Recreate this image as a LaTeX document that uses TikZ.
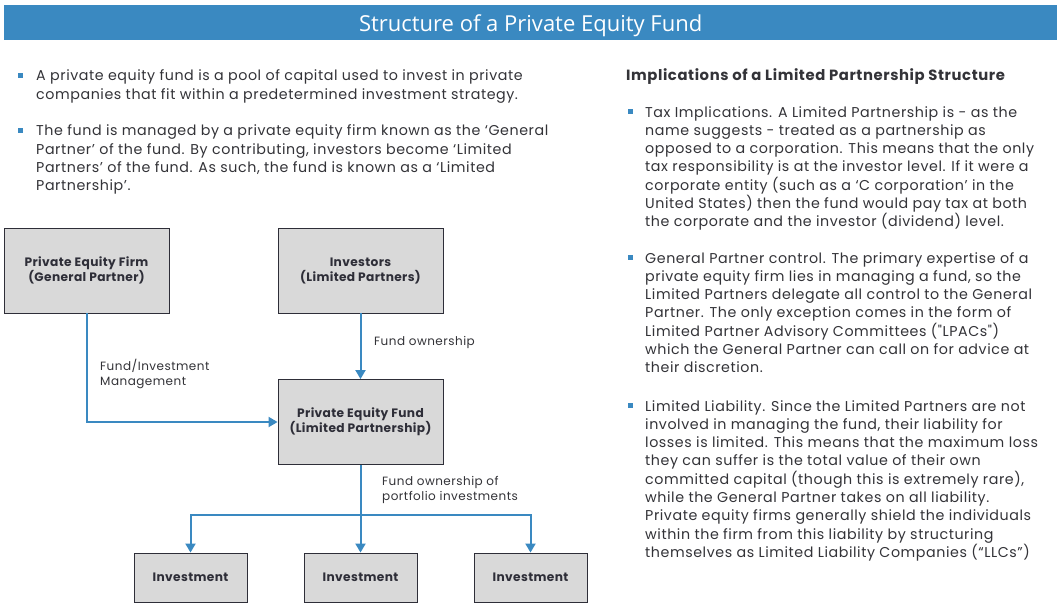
\documentclass[tikz,border=0pt]{standalone}
\usepackage{fontspec}
\setmainfont{Poppins}
\newfontfamily\titlefont{Open Sans}
\newfontfamily\wide[LetterSpace=4]{Poppins}
\newfontfamily\wideb[LetterSpace=3]{Poppins}
\usetikzlibrary{arrows.meta}
\definecolor{pblue}{HTML}{3A89C1}
\definecolor{boxfill}{HTML}{D9D9D9}
\definecolor{boxline}{HTML}{2E2E38}
\definecolor{txt}{HTML}{333338}
\tikzset{
  pbox/.style={draw=boxline, line width=0.9pt, fill=boxfill, align=center, text=boxline,
    font=\wideb\fontsize{12.2}{15}\selectfont\bfseries},
  conn/.style={draw=pblue, line width=2pt, -{Triangle[length=9pt,width=10pt]}},
  plain/.style={draw=pblue, line width=2pt},
  lbl/.style={anchor=base west, align=left, text=txt, font=\wide\fontsize{12}{15}\selectfont, inner sep=0pt},
  body/.style={anchor=base west, align=left, text=txt, font=\wide\fontsize{14.25}{18.3}\selectfont, inner sep=0pt},
  bul/.style={fill=pblue}
}
\begin{document}
\begin{tikzpicture}[x=1pt,y=-1pt]
\useasboundingbox (0,0) rectangle (1061,607);
\fill[white] (0,0) rectangle (1061,607);
\node[fill=pblue, minimum width=1053pt, minimum height=35pt, anchor=north west, inner sep=0pt,
  text depth=0pt, text=white, font=\titlefont\fontsize{22}{24}\selectfont] (title) at (4,5) {Structure of a Private Equity Fund};

% left bullets (base anchor = last line's baseline)
\fill[bul] (18,73) rectangle (23,78);
\node[body] (l1) at (36,99.3) {A private equity fund is a pool of capital used to invest in private\\companies that fit within a predetermined investment strategy.};
\fill[bul] (18,128) rectangle (23,133);
\node[body] (l2) at (36,190.9) {The fund is managed by a private equity firm known as the ‘General\\Partner’ of the fund. By contributing, investors become ‘Limited\\Partners’ of the fund. As such, the fund is known as a ‘Limited\\Partnership’.};

% right column
\node[body, font=\wide\fontsize{14.8}{18.3}\selectfont\bfseries] (rh) at (626,81) {Implications of a Limited Partnership Structure};
\fill[bul] (628,109) rectangle (633,114);
\node[body] (r1) at (645,226.8) {Tax Implications. A Limited Partnership is - as the\\name suggests - treated as a partnership as\\opposed to a corporation. This means that the only\\tax responsibility is at the investor level. If it were a\\corporate entity (such as a ‘C corporation’ in the\\United States) then the fund would pay tax at both\\the corporate and the investor (dividend) level.};
\fill[bul] (628,255) rectangle (633,260);
\node[body] (r2) at (645,372.8) {General Partner control. The primary expertise of a\\private equity firm lies in managing a fund, so the\\Limited Partners delegate all control to the General\\Partner. The only exception comes in the form of\\Limited Partner Advisory Committees ("LPACs")\\which the General Partner can call on for advice at\\their discretion.};
\fill[bul] (628,403) rectangle (633,408);
\node[body] (r3) at (645,557.4) {Limited Liability. Since the Limited Partners are not\\involved in managing the fund, their liability for\\losses is limited. This means that the maximum loss\\they can suffer is the total value of their own\\committed capital (though this is extremely rare),\\while the General Partner takes on all liability.\\Private equity firms generally shield the individuals\\within the firm from this liability by structuring\\themselves as Limited Liability Companies (“LLCs”)};

% boxes
\node[pbox, minimum width=165pt, minimum height=85pt] (gp) at (86.5,270.5) {Private Equity Firm\\(General Partner)};
\node[pbox, minimum width=165pt, minimum height=85pt] (inv) at (360.5,270.5) {Investors\\(Limited Partners)};
\node[pbox, minimum width=165pt, minimum height=85pt] (fund) at (360.5,422) {Private Equity Fund\\(Limited Partnership)};
\node[pbox, minimum width=113pt, minimum height=49pt] (i1) at (190.5,577.5) {Investment};
\node[pbox, minimum width=113pt, minimum height=49pt] (i2) at (360.5,577.5) {Investment};
\node[pbox, minimum width=113pt, minimum height=49pt] (i3) at (530.5,577.5) {Investment};

% connectors
\draw[conn] (gp.south) |- (fund.west);
\draw[conn] (inv.south) -- (fund.north);
\coordinate (split) at (360.5,515);
\draw[plain] (fund.south) -- (split);
\draw[conn] (split) -| (i1.north);
\draw[conn] (split) -- (i2.north);
\draw[conn] (split) -| (i3.north);

% labels
\node[lbl] (lab1) at (100,385.5) {Fund/Investment\\Management};
\node[lbl] (lab2) at (374,345.5) {Fund ownership};
\node[lbl] (lab3) at (382,500.5) {Fund ownership of\\portfolio investments};
\end{tikzpicture}
\end{document}
